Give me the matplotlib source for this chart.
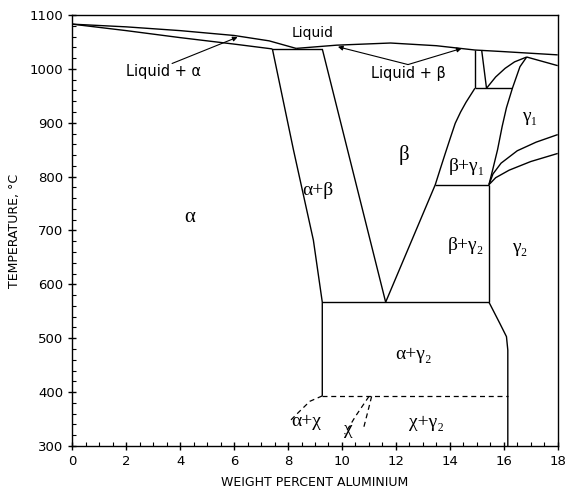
import matplotlib
matplotlib.use("Agg")
import matplotlib.pyplot as plt
from matplotlib.ticker import MultipleLocator

# -------------------------------
# Phase boundaries (wt% Al, deg C)
# -------------------------------
liq_a_x = [0, 2, 4, 6, 7.3, 8.3]
liq_a_T = [1083, 1078, 1071, 1062, 1052, 1038]
sol_a_x = [0, 2, 4, 6, 7.42]
sol_a_T = [1083, 1071, 1058, 1046, 1037]
eut_x = [7.42, 9.27]
eut_T = [1037, 1037]
liq_b_x = [8.3, 9.8, 11.8, 13.5, 14.93, 16, 17, 18]
liq_b_T = [1038, 1044, 1048, 1043, 1035, 1032, 1029, 1026]
wedge_x = [16.85, 18]
wedge_T = [1022, 1006]

v1_x = [14.93, 14.93]
v1_T = [1035, 964]
v2_x = [15.18, 15.36]
v2_T = [1035, 964]
h964_x = [14.93, 16.32]
h964_T = [964, 964]
c1_x = [15.36, 15.7, 16.05, 16.4, 16.85]
c1_T = [964, 985, 1001, 1013, 1022]
g1_left_x = [15.45, 15.6, 15.77, 15.94, 16.1, 16.32, 16.6, 16.85]
g1_left_T = [785, 815, 850, 893, 928, 964, 1004, 1022]

b_right_x = [11.62, 13.46, 13.65, 13.83, 14.02, 14.2, 14.4, 14.6, 14.93]
b_right_T = [567, 785, 815, 843, 872, 899, 920, 938, 964]
b_left_x = [9.27, 11.62]
b_left_T = [1037, 567]
a_solv_x = [7.42, 8.2, 8.94, 9.27, 9.27]
a_solv_T = [1037, 850, 682, 567, 393]

eutectoid_x = [9.27, 15.45]
eutectoid_T = [567, 567]
h785_x = [13.46, 15.45]
h785_T = [785, 785]
v1545_x = [15.45, 15.45]
v1545_T = [785, 567]
g2_left_x = [15.45, 15.85, 16.1, 16.15, 16.15]
g2_left_T = [567, 528, 503, 478, 300]

up_curve_x = [15.45, 15.6, 15.9, 16.5, 17.2, 18]
up_curve_T = [785, 805, 825, 848, 864, 878]
lo_curve_x = [15.45, 15.7, 16.2, 17.0, 18]
lo_curve_T = [785, 798, 812, 828, 843]

# dashed (uncertain) boundaries
d393_x = [9.27, 16.15]
d393_T = [393, 393]
d_ax_x = [9.27, 8.81, 8.38, 8.1]
d_ax_T = [393, 383, 362, 348]
d_chi_l_x = [11.0, 10.5, 10.1]
d_chi_l_T = [392, 355, 322]
d_chi_r_x = [11.1, 10.95, 10.8]
d_chi_r_T = [392, 362, 333]

# region labels: (text, x, T, size)
greek_labels = [
    ("α", 4.37, 724, 15),
    ("α+β", 9.12, 775, 14),
    ("β", 12.3, 840, 15),
    ("β+γ₁", 14.62, 819, 14),
    ("γ₁", 16.97, 911, 14),
    ("β+γ₂", 14.6, 673, 14),
    ("γ₂", 16.6, 668, 14),
    ("α+γ₂", 12.64, 469, 14),
    ("χ+γ₂", 13.13, 344, 14),
    ("α+χ", 8.69, 345, 14),
    ("χ", 10.22, 330, 14),
]

serif = ["Liberation Serif", "DejaVu Serif"]

fig = plt.figure(figsize=(5.68, 4.91), dpi=100)
ax = fig.add_axes([72.3 / 568, 1 - 446 / 491, (557.7 - 72.3) / 568, (446 - 15) / 491])

solid = [
    (liq_a_x, liq_a_T), (sol_a_x, sol_a_T), (eut_x, eut_T), (liq_b_x, liq_b_T),
    (wedge_x, wedge_T), (v1_x, v1_T), (v2_x, v2_T), (h964_x, h964_T),
    (c1_x, c1_T), (g1_left_x, g1_left_T), (b_right_x, b_right_T),
    (b_left_x, b_left_T), (a_solv_x, a_solv_T), (eutectoid_x, eutectoid_T),
    (h785_x, h785_T), (v1545_x, v1545_T), (g2_left_x, g2_left_T),
    (up_curve_x, up_curve_T), (lo_curve_x, lo_curve_T),
]
for xs, ts in solid:
    ax.plot(xs, ts, color="black", lw=1.0, solid_capstyle="butt", solid_joinstyle="round")

dashed = [(d393_x, d393_T), (d_ax_x, d_ax_T), (d_chi_l_x, d_chi_l_T), (d_chi_r_x, d_chi_r_T)]
for xs, ts in dashed:
    ax.plot(xs, ts, color="black", lw=0.9, ls=(0, (4, 3)))

for txt, x, t, s in greek_labels:
    ax.text(x, t, txt, family=serif, fontsize=s, ha="center", va="center")

ax.text(8.9, 1066, "Liquid", fontsize=10, ha="center", va="center")
ax.text(3.37, 996, "Liquid + α", fontsize=10.5, ha="center", va="center")
ax.text(12.45, 992, "Liquid + β", fontsize=10.5, ha="center", va="center")

arrow = dict(arrowstyle="-|>", color="black", lw=0.8, mutation_scale=7, shrinkA=0, shrinkB=0)
ax.annotate("", xy=(6.13, 1059), xytext=(3.7, 1010), arrowprops=arrow)
ax.annotate("", xy=(9.85, 1041), xytext=(12.45, 1008), arrowprops=arrow)
ax.annotate("", xy=(14.44, 1038), xytext=(12.45, 1008), arrowprops=arrow)

ax.set_xlim(0, 18)
ax.set_ylim(300, 1100)
ax.xaxis.set_major_locator(MultipleLocator(2))
ax.xaxis.set_minor_locator(MultipleLocator(0.5))
ax.yaxis.set_major_locator(MultipleLocator(100))
ax.yaxis.set_minor_locator(MultipleLocator(20))
ax.tick_params(which="major", direction="inout", length=6, width=1.0, labelsize=9.5)
ax.tick_params(which="minor", direction="in", length=3, width=0.8)
for sp in ax.spines.values():
    sp.set_linewidth(1.0)

ax.set_xlabel("WEIGHT PERCENT ALUMINIUM", fontsize=9, labelpad=6)
ax.set_ylabel("TEMPERATURE, °C", fontsize=9, labelpad=6)

fig.savefig("out.png", dpi=100)
